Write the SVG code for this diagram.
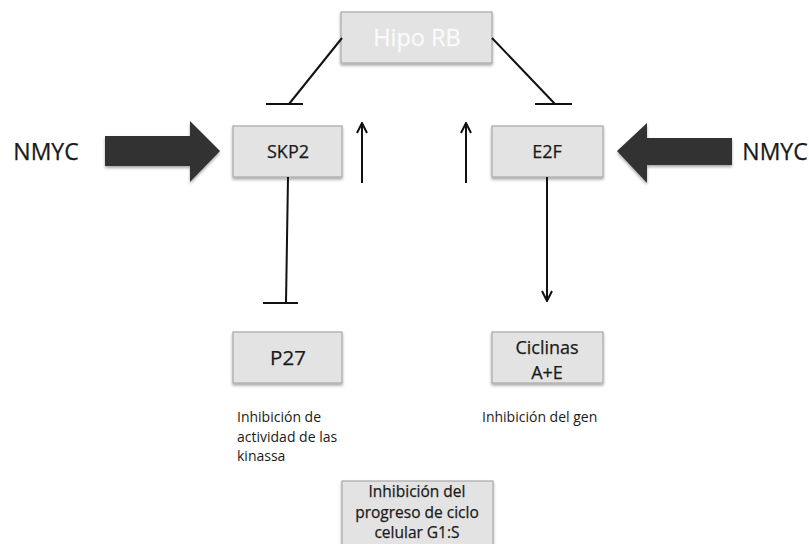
<svg xmlns="http://www.w3.org/2000/svg" width="809" height="544" viewBox="0 0 809 544">
<defs>
<filter id="sh" x="-20%" y="-20%" width="140%" height="150%">
<feGaussianBlur in="SourceAlpha" stdDeviation="1.5"/>
<feOffset dx="0" dy="2" result="b"/>
<feComponentTransfer><feFuncA type="linear" slope="0.35"/></feComponentTransfer>
<feMerge><feMergeNode/><feMergeNode in="SourceGraphic"/></feMerge>
</filter>
<marker id="arr" viewBox="0 0 12 12" refX="11" refY="6" markerWidth="12" markerHeight="12" markerUnits="userSpaceOnUse" orient="auto">
<path d="M1,1 L11,6 L1,11" fill="none" stroke="#111" stroke-width="2"/>
</marker>
</defs>
<style>
.box{fill:#e3e3e3;stroke:#a8a8a8;stroke-width:1.2;filter:url(#sh)}
.t{font-family:"Open Sans","Liberation Sans",sans-serif;fill:#1a1a1a;text-anchor:middle;stroke:#1a1a1a;stroke-width:0.25}
.s{font-family:"Open Sans","Liberation Sans",sans-serif;fill:#1a1a1a;font-size:14px}
.ln{stroke:#111;stroke-width:2;fill:none}
.big{fill:#333;filter:url(#sh)}
</style>
<rect width="809" height="544" fill="#fff"/>

<g id="hipo-rb">
<rect class="box" x="341" y="12" width="151" height="51"/>
<text class="t" x="417" y="46" font-size="23.5" style="fill:#fafafa;stroke:#fafafa;stroke-width:0.3">Hipo RB</text>
</g>
<g id="skp2">
<rect class="box" x="233" y="126" width="109" height="51"/>
<text class="t" x="288" y="158" font-size="18">SKP2</text>
</g>
<g id="e2f">
<rect class="box" x="492" y="126" width="111" height="51"/>
<text class="t" x="547" y="158" font-size="18">E2F</text>
</g>
<g id="p27">
<rect class="box" x="233" y="332" width="109" height="51"/>
<text class="t" x="288" y="365" font-size="20.5">P27</text>
</g>
<g id="ciclinas">
<rect class="box" x="492" y="332" width="111" height="51"/>
<text class="t" x="547" y="354" font-size="18">Ciclinas</text>
<text class="t" x="547" y="379" font-size="18">A+E</text>
</g>
<g id="inhibicion-ciclo">
<rect class="box" x="342" y="481" width="151" height="70"/>
<text class="t" x="417" y="497" font-size="15.5">Inhibición del</text>
<text class="t" x="417" y="518" font-size="15.5">progreso de ciclo</text>
<text class="t" x="417" y="538" font-size="15.5">celular G1:S</text>
</g>
<g id="nmyc-left">
<text class="t" x="46" y="160" font-size="23">NMYC</text>
</g>
<g id="nmyc-right">
<text class="t" x="775" y="160" font-size="23">NMYC</text>
</g>
<g id="label-p27">
<text class="s" x="237" y="422">Inhibición de</text>
<text class="s" x="237" y="442">actividad de las</text>
<text class="s" x="237" y="461">kinassa</text>
</g>
<g id="label-ciclinas">
<text class="s" x="482" y="422">Inhibición del gen</text>
</g>

<g id="connectors">
<path class="big" d="M105,136 H190 V121 L220,151 L190,182 V166 H105 Z"/>
<path class="big" d="M732,138 H647 V123 L617,151 L647,183 V165 H732 Z"/>
<line class="ln" x1="342" y1="38" x2="289" y2="104"/>
<line class="ln" x1="266" y1="104" x2="303" y2="104"/>
<line class="ln" x1="492" y1="38" x2="555" y2="104"/>
<line class="ln" x1="535" y1="104" x2="572" y2="104"/>
<line class="ln" x1="362" y1="183" x2="362" y2="123" marker-end="url(#arr)"/>
<line class="ln" x1="466" y1="183" x2="466" y2="123" marker-end="url(#arr)"/>
<line class="ln" x1="288" y1="177" x2="286" y2="303"/>
<line class="ln" x1="263" y1="303" x2="298" y2="303"/>
<line class="ln" x1="547" y1="177" x2="547" y2="301" marker-end="url(#arr)"/>
</g>
</svg>
